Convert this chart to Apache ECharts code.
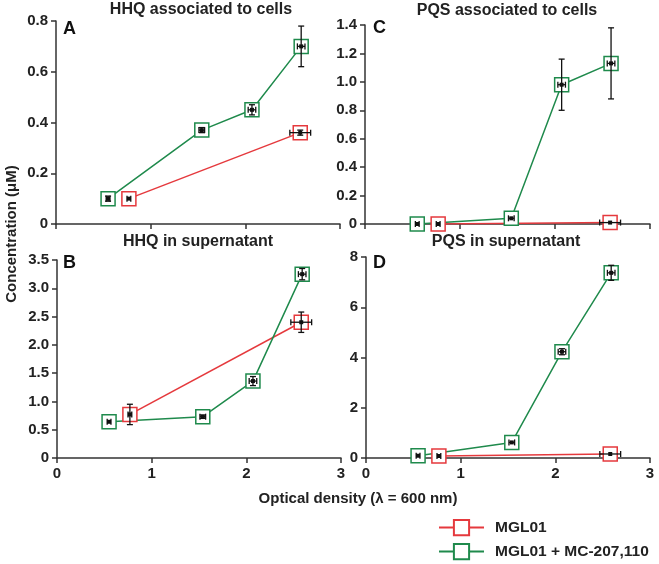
<!DOCTYPE html>
<html><head><meta charset="utf-8">
<script src="https://cdn.jsdelivr.net/npm/echarts@6/dist/echarts.min.js"></script>
<style>html,body{margin:0;padding:0;background:#fff}#c{width:659px;height:564px}</style>
</head><body><div id="c"></div>
<script>
// ---- data ----
const seriesNames = ['MGL01', 'MGL01 + MC-207,110'];
const panelTitles = ['HHQ associated to cells', 'HHQ in supernatant', 'PQS associated to cells', 'PQS in supernatant'];
const panelLetters = ['A', 'B', 'C', 'D'];
const xTicks = [0, 1, 2, 3];
// optical density (x) and its error
const odRed = [0.77, 2.58];
const odRedErr = [0.02, 0.11];
const odGreen = [0.55, 1.54, 2.07, 2.59];
const odGreenErr = [0.02, 0.03, 0.04, 0.04];
// A: HHQ associated to cells
const hhqCellsRed = [0.10, 0.36];
const hhqCellsRedErr = [0.005, 0.01];
const hhqCellsGreen = [0.10, 0.37, 0.45, 0.70];
const hhqCellsGreenErr = [0.01, 0.01, 0.02, 0.08];
// B: HHQ in supernatant
const hhqSupRed = [0.77, 2.40];
const hhqSupRedErr = [0.18, 0.18];
const hhqSupGreen = [0.64, 0.73, 1.36, 3.25];
const hhqSupGreenErr = [0.02, 0.03, 0.08, 0.10];
// C: PQS associated to cells
const pqsCellsRed = [0.00, 0.01];
const pqsCellsRedErr = [0.003, 0.005];
const pqsCellsGreen = [0.00, 0.04, 0.98, 1.13];
const pqsCellsGreenErr = [0.005, 0.01, 0.18, 0.25];
// D: PQS in supernatant
const pqsSupRed = [0.08, 0.16];
const pqsSupRedErr = [0.02, 0.02];
const pqsSupGreen = [0.09, 0.62, 4.23, 7.37];
const pqsSupGreenErr = [0.02, 0.05, 0.12, 0.30];
// y axis scales
const yMax = [0.8, 3.5, 1.4, 8];
const yStep = [0.2, 0.5, 0.2, 2];

// ---- styling / layout ----
const RED = '#e5393d', GREEN = '#1f8a4c', AX = '#333';
const FONT = '"Liberation Sans", Arial, sans-serif';
const grids = [
  {left: 56, top: 21, width: 284, height: 203},
  {left: 57, top: 260, width: 284, height: 198},
  {left: 365, top: 25, width: 285, height: 199},
  {left: 366, top: 257, width: 284, height: 201}
];
const panels = [
  {red: hhqCellsRed, redErr: hhqCellsRedErr, green: hhqCellsGreen, greenErr: hhqCellsGreenErr},
  {red: hhqSupRed, redErr: hhqSupRedErr, green: hhqSupGreen, greenErr: hhqSupGreenErr},
  {red: pqsCellsRed, redErr: pqsCellsRedErr, green: pqsCellsGreen, greenErr: pqsCellsGreenErr},
  {red: pqsSupRed, redErr: pqsSupRedErr, green: pqsSupGreen, greenErr: pqsSupGreenErr}
];
const titlePos = [[201, 2], [198, 234], [507, 3], [506, 234]];
const letterPos = [[63, 20], [63, 254], [373, 19], [373, 254]];

const xAxes = [], yAxes = [], series = [], titles = [];
panels.forEach((p, i) => {
  const showX = (i === 1 || i === 3);
  xAxes.push({
    gridIndex: i, type: 'value', min: xTicks[0], max: xTicks[xTicks.length - 1], interval: 1,
    axisLine: {show: true, onZero: false, lineStyle: {color: AX, width: 1.5}},
    axisTick: {show: true, length: 5, lineStyle: {color: AX, width: 1.5}},
    axisLabel: {show: showX, color: '#222', fontFamily: FONT, fontWeight: 'bold', fontSize: 15, margin: 8},
    splitLine: {show: false}
  });
  yAxes.push({
    gridIndex: i, type: 'value', min: 0, max: yMax[i], interval: yStep[i],
    axisLine: {show: true, lineStyle: {color: AX, width: 1.5}},
    axisTick: {show: true, length: 5, lineStyle: {color: AX, width: 1.5}},
    axisLabel: {color: '#222', fontFamily: FONT, fontWeight: 'bold', fontSize: 15, margin: 8,
      formatter: v => (v === 0 ? '0' : (yStep[i] < 1 ? v.toFixed(1) : String(v)))},
    splitLine: {show: false}
  });
  const mk = (name, color, xs, ys) => ({
    name, type: 'line', xAxisIndex: i, yAxisIndex: i,
    data: xs.map((x, k) => [x, ys[k]]),
    symbol: 'rect', symbolSize: 14, showSymbol: true,
    lineStyle: {color, width: 1.5},
    itemStyle: {color: '#fff', borderColor: color, borderWidth: 1.5},
    z: 2, animation: false
  });
  series.push(mk(seriesNames[0], RED, odRed, p.red));
  series.push(mk(seriesNames[1], GREEN, odGreen, p.green));
  const errData = [];
  odRed.forEach((x, k) => errData.push([x, p.red[k], odRedErr[k], p.redErr[k]]));
  odGreen.forEach((x, k) => errData.push([x, p.green[k], odGreenErr[k], p.greenErr[k]]));
  series.push({
    type: 'custom', xAxisIndex: i, yAxisIndex: i, z: 5, animation: false, silent: true,
    data: errData,
    renderItem: (params, api) => {
      const x = api.value(0), y = api.value(1), xe = api.value(2), ye = api.value(3);
      const c = api.coord([x, y]);
      const top = api.coord([x, y + ye])[1], bot = api.coord([x, y - ye])[1];
      const lft = api.coord([x - xe, y])[0], rgt = api.coord([x + xe, y])[0];
      const st = {stroke: '#111', lineWidth: 1.3};
      const ch = [];
      if (bot - top > 3) {
        ch.push({type: 'line', shape: {x1: c[0], y1: top, x2: c[0], y2: bot}, style: st});
        ch.push({type: 'line', shape: {x1: c[0] - 3, y1: top, x2: c[0] + 3, y2: top}, style: st});
        ch.push({type: 'line', shape: {x1: c[0] - 3, y1: bot, x2: c[0] + 3, y2: bot}, style: st});
      }
      if (rgt - lft > 3) {
        ch.push({type: 'line', shape: {x1: lft, y1: c[1], x2: rgt, y2: c[1]}, style: st});
        ch.push({type: 'line', shape: {x1: lft, y1: c[1] - 3, x2: lft, y2: c[1] + 3}, style: st});
        ch.push({type: 'line', shape: {x1: rgt, y1: c[1] - 3, x2: rgt, y2: c[1] + 3}, style: st});
      }
      ch.push({type: 'rect', shape: {x: c[0] - 2, y: c[1] - 2, width: 4, height: 4}, style: {fill: '#111'}});
      return {type: 'group', children: ch};
    }
  });
  titles.push({text: panelTitles[i], left: titlePos[i][0], top: titlePos[i][1], textAlign: 'center',
    textStyle: {fontFamily: FONT, fontWeight: 'bold', fontSize: 16, color: '#222'}, padding: 0});
  titles.push({text: panelLetters[i], left: letterPos[i][0], top: letterPos[i][1],
    textStyle: {fontFamily: FONT, fontWeight: 'bold', fontSize: 18, color: '#111'}, padding: 0});
});

const legendBase = {
  orient: 'vertical', left: 438, itemWidth: 45, itemHeight: 19, width: 220,
  textStyle: {fontFamily: FONT, fontWeight: 'bold', fontSize: 15.5, color: '#222', padding: [0, 0, 0, 6]},
  selectedMode: false, padding: 0
};

const chart = echarts.init(document.getElementById('c'), null, {renderer: 'canvas'});
chart.setOption({
  animation: false,
  backgroundColor: '#fff',
  title: titles,
  grid: grids,
  xAxis: xAxes,
  yAxis: yAxes,
  series: series,
  legend: [
    Object.assign({}, legendBase, {data: [seriesNames[0]], top: 519}),
    Object.assign({}, legendBase, {data: [seriesNames[1]], top: 543})
  ],
  graphic: [
    {type: 'text', x: 12, y: 234, rotation: Math.PI / 2,
      style: {text: 'Concentration (μM)', font: 'bold 15px ' + FONT, fill: '#222', align: 'center', verticalAlign: 'middle'}},
    {type: 'text', x: 358, y: 499,
      style: {text: 'Optical density (λ = 600 nm)', font: 'bold 15px ' + FONT, fill: '#222', align: 'center', verticalAlign: 'middle'}}
  ]
});
</script></body></html>
